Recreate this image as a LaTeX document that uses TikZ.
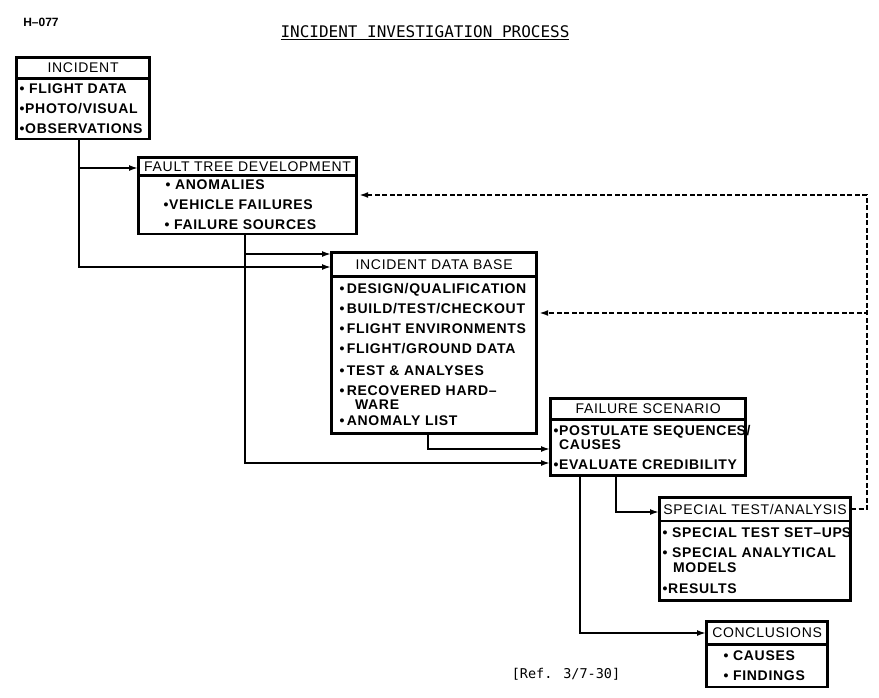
\documentclass[tikz,border=0pt]{standalone}
\usepackage{fontspec}
\setmainfont{Liberation Sans}
\newfontfamily\boxfont[LetterSpace=5]{Liberation Sans}
\newfontfamily\typefont{DejaVu Sans Mono}
\usetikzlibrary{arrows.meta,shapes.multipart}

\begin{document}
\begin{tikzpicture}[
    x=1pt, y=-1pt,
    box/.style={
        draw,
        rectangle split,
        rectangle split parts=2,
        rectangle split part align={center,left},
        anchor=north west,
        align=left,
        line width=1.2pt,
        postaction={draw, line width=2.6pt},
        inner xsep=3pt,
        font=\boxfont\bfseries\fontsize{14}{20}\selectfont
    },
    edge/.style={-{Latex[length=9pt,width=6pt]}, line width=1.7pt},
    feedback/.style={-{Latex[length=9pt,width=6pt]}, line width=1.7pt, dash pattern=on 5pt off 2.5pt}
]
\useasboundingbox (0,0) rectangle (879,697);

\node[font=\bfseries\fontsize{12}{14}\selectfont] (code) at (41,22) {H–077};
\node[font=\typefont\fontsize{16}{18}\selectfont] (title) at (425,33) {\underline{INCIDENT INVESTIGATION PROCESS}};
\node[font=\typefont\fontsize{13.5}{15}\selectfont] (ref) at (566,674) {[Ref. 3/7-30]};

\node[box, inner ysep=4.75pt] (inc) at (16,57)
    {\makebox[127pt]{\mdseries INCIDENT} \nodepart{two} • FLIGHT DATA\\•PHOTO/VISUAL\\•OBSERVATIONS};
\node[box, inner ysep=3.5pt] (ftd) at (138,157)
    {\makebox[212pt]{\mdseries FAULT TREE DEVELOPMENT} \nodepart{two}
     \hspace*{24pt}• ANOMALIES\\\hspace*{22pt}•VEHICLE FAILURES\\\hspace*{23pt}• FAILURE SOURCES};
\node[box, inner xsep=8pt, inner ysep=6.5pt, postaction={draw, line width=3.4pt}] (idb) at (331,252)
    {\makebox[189pt]{\mdseries INCIDENT DATA BASE} \nodepart{two}
     •\,DESIGN/QUALIFICATION\\•\,BUILD/TEST/CHECKOUT\\•\,FLIGHT ENVIRONMENTS\\•\,FLIGHT/GROUND DATA\\[2pt]%
     •\,TEST \& ANALYSES\\•\,RECOVERED HARD–\\[-6pt]\hspace*{1.1em}WARE\\[-4pt]•\,ANOMALY LIST};
\node[box, inner ysep=5pt] (fs) at (550,398)
    {\makebox[189pt]{\mdseries FAILURE SCENARIO} \nodepart{two}
     •POSTULATE SEQUENCE\rlap{S/}\\[-6pt]\hspace*{0.4em}CAUSES\\•EVALUATE CREDIBILITY};
\node[box, inner ysep=6pt] (sta) at (659,497)
    {\makebox[185pt]{\mdseries SPECIAL TEST/ANALYSIS} \nodepart{two}
     • SPECIAL TEST SET–UP\rlap{S}\\• SPECIAL ANALYTICAL\\[-5pt]\hspace*{0.75em}MODELS\\[1pt]•RESULTS};
\node[box, inner ysep=5.75pt] (con) at (706,621)
    {\makebox[115pt]{\mdseries CONCLUSIONS} \nodepart{two}
     \hspace*{14pt}• CAUSES\\\hspace*{14pt}• FINDINGS};

% forward flow
\draw[edge] (inc.south -| 79,0) |- (ftd.west |- 0,168);
\draw[edge] (inc.south -| 79,0) |- (idb.west |- 0,267);
\draw[edge] (ftd.south -| 245,0) |- (idb.west |- 0,254);
\draw[edge] (ftd.south -| 245,0) |- (fs.west |- 0,463);
\draw[edge] (idb.south -| 428,0) |- (fs.west |- 0,449);
\draw[edge] (fs.south -| 616,0) |- (sta.west |- 0,512);
\draw[edge] (fs.south -| 580,0) |- (con.west |- 0,633);

% feedback loops
\draw[feedback] (sta.east |- 0,509) -- ++(16,0) |- ([xshift=2pt]ftd.east |- 0,195);
\draw[feedback] (sta.east |- 0,509) -- ++(16,0) |- ([xshift=2pt]idb.east |- 0,313);
\end{tikzpicture}
\end{document}
